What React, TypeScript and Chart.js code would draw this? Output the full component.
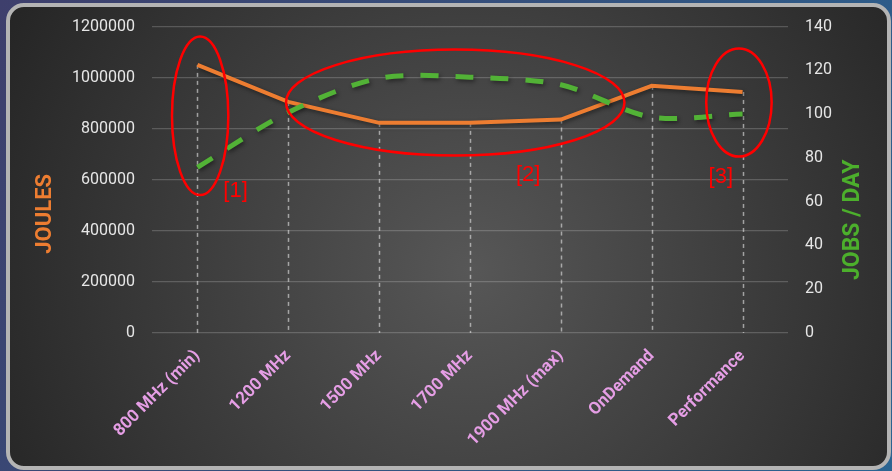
import { useEffect, useRef } from 'react';
import { Chart, registerables } from 'chart.js';
Chart.register(...registerables);

const categories = ['800 MHz (min)', '1200 MHz', '1500 MHz', '1700 MHz', '1900 MHz (max)', 'OnDemand', 'Performance'];
const joules = [1050000, 905000, 823000, 823000, 836000, 968000, 944000];
const jobsPerDay = [75.7, 100.8, 116.4, 116.9, 113.4, 98.6, 100.1];
const joulesMax = 1200000;
const joulesStep = 200000;
const jobsMax = 140;
const jobsStep = 20;
const leftTitle = 'JOULES';
const rightTitle = 'JOBS / DAY';
// annotation ellipses in data units: x in category index, y in joules
const ellipses = [
  { x0: -0.28, x1: 0.34, yTop: 1161000, yBottom: 540000 },
  { x0: 0.975, x1: 4.7, yTop: 1110000, yBottom: 695000 },
  { x0: 5.6, x1: 6.32, yTop: 1114000, yBottom: 691000 },
];
const notes = [
  { text: '[1]', x: 0.42, y: 555000 },
  { text: '[2]', x: 3.64, y: 621000 },
  { text: '[3]', x: 5.76, y: 610000 },
];

const W = 892;
const H = 471;

export default function App() {
  const ref = useRef<HTMLCanvasElement>(null);
  useEffect(() => {
    document.body.style.margin = '0';
    const canvas = ref.current!;
    const bgPlugin = {
      id: 'bg',
      beforeDraw(chart: any) {
        const ctx = chart.ctx;
        ctx.save();
        const og = ctx.createLinearGradient(0, 0, W, H);
        og.addColorStop(0, '#3e3f6c');
        og.addColorStop(1, '#2a6491');
        ctx.fillStyle = og;
        ctx.fillRect(0, 0, W, H);
        const x = 8, y = 5, w = 881, h = 463, r = 16;
        ctx.beginPath();
        ctx.roundRect(x, y, w, h, r);
        const rg = ctx.createRadialGradient(470, 270, 0, 470, 270, 560);
        rg.addColorStop(0, '#575757');
        rg.addColorStop(1, '#222222');
        ctx.fillStyle = rg;
        ctx.fill();
        ctx.lineWidth = 4;
        ctx.strokeStyle = '#b4b4b4';
        ctx.stroke();
        ctx.restore();
      },
      beforeDatasetsDraw(chart: any) {
        const ctx = chart.ctx;
        const xs = chart.scales.x;
        const ys = chart.scales.y;
        ctx.save();
        ctx.strokeStyle = 'rgba(230,230,230,0.6)';
        ctx.lineWidth = 1.5;
        ctx.setLineDash([4, 4]);
        joules.forEach((v, i) => {
          const px = Math.round(xs.getPixelForValue(i)) + 0.5;
          ctx.beginPath();
          ctx.moveTo(px, ys.getPixelForValue(v));
          ctx.lineTo(px, ys.getPixelForValue(0));
          ctx.stroke();
        });
        ctx.restore();
        ctx.save();
        ctx.shadowColor = 'rgba(0,0,0,0.45)';
        ctx.shadowBlur = 4;
        ctx.shadowOffsetX = 1.5;
        ctx.shadowOffsetY = 2;
      },
      afterDatasetsDraw(chart: any) {
        chart.ctx.restore();
      },
      afterDraw(chart: any) {
        const ctx = chart.ctx;
        const xs = chart.scales.x;
        const ys = chart.scales.y;
        const area = chart.chartArea;
        const step = xs.getPixelForValue(1) - xs.getPixelForValue(0);
        const x0p = xs.getPixelForValue(0);
        const toX = (v: number) => x0p + v * step;
        ctx.save();
        ctx.strokeStyle = '#ff0000';
        ctx.lineWidth = 2.5;
        ellipses.forEach((e) => {
          const a = toX(e.x0), b = toX(e.x1);
          const t = ys.getPixelForValue(e.yTop), btm = ys.getPixelForValue(e.yBottom);
          ctx.beginPath();
          ctx.ellipse((a + b) / 2, (t + btm) / 2, (b - a) / 2, (btm - t) / 2, 0, 0, Math.PI * 2);
          ctx.stroke();
        });
        ctx.fillStyle = '#ff0000';
        ctx.font = '22px "Liberation Sans", Arial, sans-serif';
        ctx.textAlign = 'center';
        ctx.textBaseline = 'middle';
        notes.forEach((n) => {
          ctx.fillText(n.text, toX(n.x), ys.getPixelForValue(n.y));
        });
        // axis titles
        const midY = (area.top + area.bottom) / 2;
        ctx.font = 'bold 22px Roboto, sans-serif';
        ctx.fillStyle = '#ed7d31';
        ctx.translate(area.left - 107, midY + 34);
        ctx.rotate(-Math.PI / 2);
        ctx.fillText(leftTitle, 0, 0);
        ctx.setTransform(1, 0, 0, 1, 0, 0);
        ctx.fillStyle = '#4caf2c';
        ctx.translate(area.right + 65, midY + 40);
        ctx.rotate(-Math.PI / 2);
        ctx.font = 'bold 23px Roboto, sans-serif';
        ctx.fillText(rightTitle, 0, 0);
        ctx.restore();
      },
    };
    const chart = new Chart(canvas, {
      type: 'line',
      data: {
        labels: categories,
        datasets: [
          {
            label: 'Jobs / Day',
            data: jobsPerDay,
            yAxisID: 'y1',
            borderColor: '#52b236',
            borderWidth: 5,
            borderDash: [18, 17],
            tension: 0.3,
            pointRadius: 0,
            fill: false,
            order: 0,
          },
          {
            label: 'Joules',
            data: joules,
            yAxisID: 'y',
            borderColor: '#ed7d31',
            borderWidth: 4,
            tension: 0,
            pointRadius: 0,
            fill: false,
            order: 1,
          },
        ],
      },
      options: {
        responsive: false,
        animation: false,
        devicePixelRatio: 1,
        layout: { padding: { top: 17, left: 0, right: 0, bottom: 0 } },
        plugins: { legend: { display: false }, tooltip: { enabled: false } },
        scales: {
          x: {
            type: 'category',
            offset: true,
            grid: { display: false, drawTicks: false },
            border: { display: false },
            ticks: {
              color: '#e59ee5',
              font: { family: 'Roboto, sans-serif', size: 17, weight: 'bold' },
              maxRotation: 45,
              minRotation: 45,
              padding: 13,
              autoSkip: false,
            },
            afterFit(scale: any) { scale.height = H - 333; },
          },
          y: {
            position: 'left',
            min: 0,
            max: joulesMax,
            grid: { color: 'rgba(255,255,255,0.19)', lineWidth: 1.2, drawTicks: false },
            border: { display: false },
            ticks: {
              stepSize: joulesStep,
              color: '#e6e6e6',
              font: { family: 'Roboto, sans-serif', size: 16 },
              padding: 17,
              callback: (v: any) => String(v),
            },
            afterFit(scale: any) { scale.width = 152; },
          },
          y1: {
            position: 'right',
            min: 0,
            max: jobsMax,
            grid: { display: false, drawTicks: false },
            border: { display: false },
            ticks: {
              stepSize: jobsStep,
              color: '#e6e6e6',
              font: { family: 'Roboto, sans-serif', size: 16 },
              padding: 17,
              callback: (v: any) => String(v),
            },
            afterFit(scale: any) { scale.width = W - 788; },
          },
        },
      },
      plugins: [bgPlugin],
    });
    return () => chart.destroy();
  }, []);
  return (
    <div style={{ width: W, height: H }}>
      <canvas ref={ref} width={W} height={H} style={{ display: 'block' }} />
    </div>
  );
}
